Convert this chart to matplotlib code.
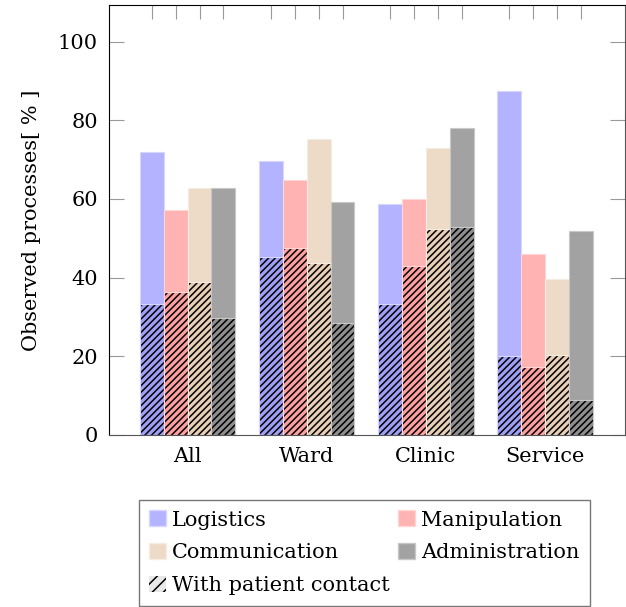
import numpy as np
import matplotlib.pyplot as plt
from matplotlib.patches import Patch

plt.rcParams['font.family'] = 'DejaVu Serif'
plt.rcParams['hatch.linewidth'] = 1.1

# data
groups = ['All', 'Ward', 'Clinic', 'Service']
categories = ['Logistics', 'Manipulation', 'Communication', 'Administration']
total = {
    'Logistics':      [72.0, 69.7, 58.6, 87.5],
    'Manipulation':   [57.2, 64.7, 60.1, 45.9],
    'Communication':  [62.9, 75.2, 72.9, 39.7],
    'Administration': [62.7, 59.3, 78.1, 51.9],
}
contact = {
    'Logistics':      [33.3, 45.2, 33.3, 20.1],
    'Manipulation':   [36.3, 47.5, 42.9, 17.4],
    'Communication':  [38.8, 43.8, 52.3, 20.4],
    'Administration': [29.7, 28.4, 52.9, 8.8],
}

fill_light = {'Logistics': '#b3b3ff', 'Manipulation': '#ffb3b3',
              'Communication': '#eddbc8', 'Administration': '#a2a2a2'}
fill_dark = {'Logistics': '#9f9ff7', 'Manipulation': '#ff9f9f',
             'Communication': '#e8cfb6', 'Administration': '#8e8e8e'}
edge = {'Logistics': '#d6d6ff', 'Manipulation': '#ffd6d6',
        'Communication': '#f6ece2', 'Administration': '#c8c8c8'}

fig = plt.figure(figsize=(6.26, 6.07), dpi=100)
ax = fig.add_axes([109/626, 1-435/607, (625-109)/626, (435-5)/607])

x = np.arange(len(groups))
w = 0.2
centers = []
for i, cat in enumerate(categories):
    pos = x + (i - 1.5) * w
    centers.extend(pos)
    ax.bar(pos, total[cat], width=w, color=fill_light[cat], edgecolor=edge[cat], linewidth=0.8)
    # hatched part (patient contact)
    ax.bar(pos, contact[cat], width=w, color=fill_dark[cat], edgecolor='black', linewidth=0,
           hatch='/////')
    ax.bar(pos, contact[cat], width=w, fill=False, edgecolor=edge[cat], linewidth=0.8)

ax.set_xlim(-0.66, 3.67)
ax.set_ylim(0, 109.3)
ax.set_xticks(x)
ax.set_xticklabels(groups, fontsize=15)
ax.tick_params(axis='x', length=0, pad=9)
ax.set_yticks([0, 20, 40, 60, 80, 100])
ax.tick_params(axis='y', direction='in', length=11, color='#999999', labelsize=15,
               right=True, pad=8)
ax.set_ylabel('Observed processes[ % ]', fontsize=15, labelpad=12)

sec = ax.secondary_xaxis('top')
sec.set_xticks(sorted(centers))
sec.set_xticklabels([])
sec.tick_params(direction='in', length=10, color='#999999')
sec.spines['top'].set_visible(False)

ax.spines['bottom'].set_color('#555555')
ax.spines['left'].set_color('black')
ax.spines['top'].set_color('black')
ax.spines['right'].set_color('#555555')

handles = [Patch(facecolor=fill_light[c], edgecolor=edge[c], label=c) for c in categories]
handles.append(Patch(facecolor='#e8e8e8', edgecolor='black', linewidth=0, hatch='///',
                     label='With patient contact'))
order = [handles[0], handles[2], handles[4], handles[1], handles[3]]
leg = fig.legend(handles=order, ncol=2, loc='upper left',
                 bbox_to_anchor=(139/626, 1-500/607), fontsize=15,
                 frameon=True, fancybox=False, edgecolor='#555555',
                 handlelength=0.8, handleheight=0.8, handletextpad=0.3,
                 columnspacing=0.4, labelspacing=0.65, borderpad=0.5,
                 borderaxespad=0)
leg.get_frame().set_linewidth(1.0)

fig.savefig('out.png', dpi=100)
